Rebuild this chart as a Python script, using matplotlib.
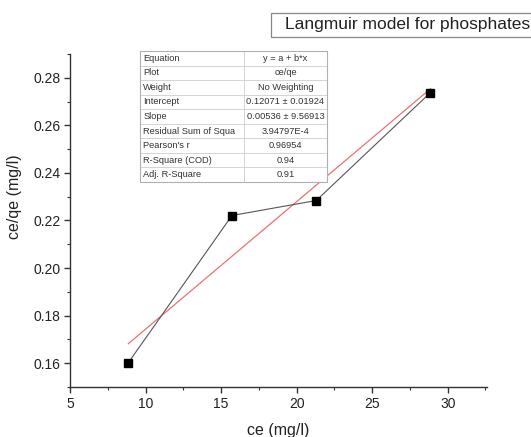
import matplotlib
matplotlib.use("Agg")
import matplotlib.pyplot as plt
import matplotlib.patches as patches
from matplotlib.ticker import MultipleLocator
import numpy as np

plt.rcParams['font.family'] = ['Liberation Sans', 'DejaVu Sans']

# Data
ce = [8.86, 15.72, 21.3, 28.86]
ce_qe = [0.1602, 0.2221, 0.2284, 0.2738]

intercept = 0.12071
slope = 0.00536

table_labels = ["Equation", "Plot", "Weight", "Intercept", "Slope",
                "Residual Sum of Squa", "Pearson's r", "R-Square (COD)", "Adj. R-Square"]
table_values = ["y = a + b*x", "ce/qe", "No Weighting", "0.12071 \u00b1 0.01924",
                "0.00536 \u00b1 9.56913", "3.94797E-4", "0.96954", "0.94", "0.91"]

title = "Langmuir model for phosphates"

W, H = 531, 437
fig = plt.figure(figsize=(W / 100, H / 100), dpi=100)
ax = fig.add_axes([70 / W, 1 - 387 / H, 417 / W, 333 / H])

axis_col = '#333333'

fit_x = np.array([ce[0], ce[-1]])
fit_y = intercept + slope * fit_x
ax.plot(fit_x, fit_y, color='#ee7070', lw=0.9, zorder=2)
ax.plot(ce, ce_qe, color='#555555', lw=0.8, marker='s', markersize=5.5,
        markerfacecolor='black', markeredgecolor='black', zorder=3)

ax.set_xlim(5, 32.6)
ax.set_ylim(0.15, 0.29)
ax.xaxis.set_major_locator(MultipleLocator(5))
ax.xaxis.set_minor_locator(MultipleLocator(2.5))
ax.yaxis.set_major_locator(MultipleLocator(0.02))
ax.yaxis.set_minor_locator(MultipleLocator(0.01))
ax.yaxis.set_major_formatter(matplotlib.ticker.FormatStrFormatter('%.2f'))

for s in ['top', 'right']:
    ax.spines[s].set_visible(False)
for s in ['left', 'bottom']:
    ax.spines[s].set_color(axis_col)
    ax.spines[s].set_linewidth(1.0)

ax.tick_params(which='major', direction='out', length=4, width=1, color=axis_col,
               labelsize=10, labelcolor='#222222', pad=3)
ax.tick_params(which='minor', direction='out', length=2.5, width=0.8, color=axis_col)

ax.set_xlabel("ce (mg/l)", fontsize=11.5, color='#222222', labelpad=9)
ax.set_ylabel("ce/qe (mg/l)", fontsize=11.5, color='#222222')
ax.yaxis.set_label_coords(-0.115, 0.571)

# Table
tbl = ax.table(cellText=[[a, b] for a, b in zip(table_labels, table_values)],
               colWidths=[0.556, 0.444],
               bbox=[(140 - 70) / 417, (387 - 182) / 333, 187 / 417, 131 / 333],
               zorder=5)
tbl.auto_set_font_size(False)
for (r, c), cell in tbl.get_celld().items():
    cell.set_edgecolor('#d0d0d0')
    cell.set_linewidth(0.6)
    cell.set_facecolor('white')
    cell.get_text().set_fontsize(6.7)
    cell.get_text().set_color('#333333')
    if c == 0:
        cell.get_text().set_ha('left')
        cell._loc = 'left'
        cell.PAD = 0.03
    else:
        cell._loc = 'center'
        cell.get_text().set_ha('center')
# outer border
ax.add_patch(patches.Rectangle(((140 - 70) / 417, (387 - 182) / 333), 187 / 417, 131 / 333,
                               transform=ax.transAxes, fill=False, edgecolor='#b0b0b0',
                               lw=0.8, zorder=6, clip_on=False))

# Title box
fig.patches.append(patches.Rectangle((271 / W, 1 - 37 / H), 270 / W, 24 / H,
                                     transform=fig.transFigure, fill=False,
                                     edgecolor='#888888', lw=0.9))
fig.text(285 / W, 1 - 25 / H, title, fontsize=12.5, color='#222222', ha='left', va='center')

fig.savefig("out.png", dpi=100)
